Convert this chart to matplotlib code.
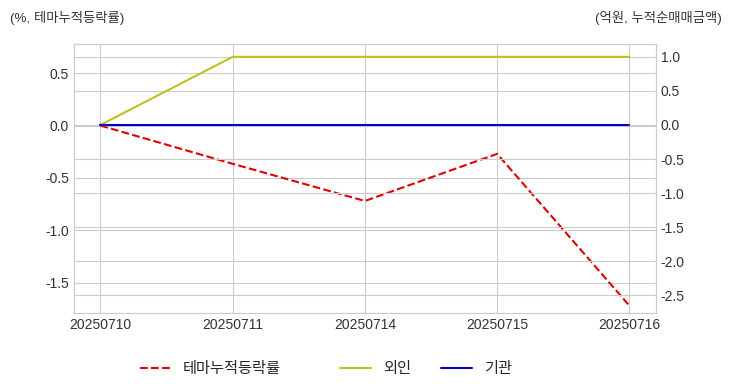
import matplotlib
matplotlib.use("Agg")
import matplotlib.pyplot as plt
import seaborn as sns

# data
dates = ["20250710", "20250711", "20250714", "20250715", "20250716"]
theme_cum = [0.0, -0.365, -0.72, -0.27, -1.72]      # %, left axis
foreign_cum = [0.0, 1.0, 1.0, 1.0, 1.0]             # 억원, right axis
inst_cum = [0.0, 0.0, 0.0, 0.0, 0.0]                # 억원, right axis

sns.set_style("whitegrid")
plt.rcParams["font.family"] = ["Liberation Sans", "Noto Sans CJK KR", "DejaVu Sans"]
plt.rcParams["axes.unicode_minus"] = False

fig, ax = plt.subplots(figsize=(7.32, 3.92), dpi=100)
fig.subplots_adjust(left=0.101, right=0.896, top=0.888, bottom=0.2015)
ax2 = ax.twinx()

xs = range(len(dates))
l1, = ax.plot(xs, theme_cum, color="#e00000", ls="--", lw=1.5, label="테마누적등락률")
l2, = ax2.plot(xs, foreign_cum, color="#c0c020", lw=1.5, label="외인")
l3, = ax2.plot(xs, inst_cum, color="#0000cc", lw=1.5, label="기관")

ax.set_xticks(list(xs), dates)
ax.set_xlim(-0.2, len(dates) - 0.8)
ax.set_ylim(-1.79, 0.78)
ax2.set_ylim(-2.76, 1.19)
ax.set_yticks([0.5, 0.0, -0.5, -1.0, -1.5])
ax2.set_yticks([1.0, 0.5, 0.0, -0.5, -1.0, -1.5, -2.0, -2.5])

for a in (ax, ax2):
    a.tick_params(labelsize=10, colors="#333333", length=0)
    for s in a.spines.values():
        s.set_color("#cccccc")
ax2.grid(True, color="#cccccc")

fig.text(0.014, 0.955, "(%, 테마누적등락률)", fontsize=9.6, color="#333333", va="center")
fig.text(0.986, 0.955, "(억원, 누적순매매금액)", fontsize=9.6, color="#333333",
         va="center", ha="right")

# 두 개의 범례: 왼쪽 축 / 오른쪽 축
leg1 = fig.legend(handles=[l1], loc="center left", bbox_to_anchor=(140 / 732, 1 - 369 / 392),
                  frameon=False, fontsize=11, borderpad=0, borderaxespad=0)
leg2 = fig.legend(handles=[l2, l3], loc="center left", bbox_to_anchor=(340 / 732, 1 - 369 / 392),
                  ncol=2, frameon=False, fontsize=11, borderpad=0, borderaxespad=0)

fig.savefig("out.png", dpi=100)
